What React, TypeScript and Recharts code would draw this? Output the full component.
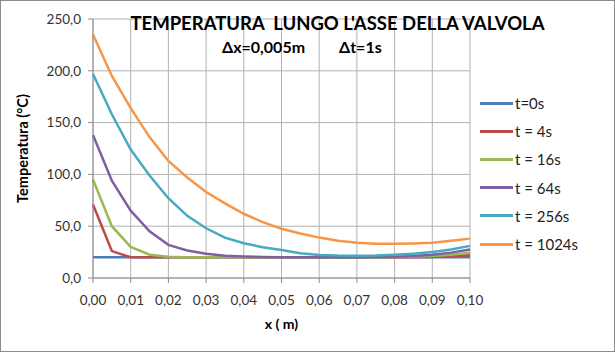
import { CartesianGrid, Line, LineChart, XAxis, YAxis } from "recharts";

const xs = [
  0, 0.005, 0.01, 0.015, 0.02, 0.025, 0.03, 0.035, 0.04, 0.045, 0.05, 0.055,
  0.06, 0.065, 0.07, 0.075, 0.08, 0.085, 0.09, 0.095, 0.1,
];
const xTicks = [0, 0.01, 0.02, 0.03, 0.04, 0.05, 0.06, 0.07, 0.08, 0.09, 0.1];
const yTicks = [0, 50, 100, 150, 200, 250];

const t0 = [20, 20, 20, 20, 20, 20, 20, 20, 20, 20, 20, 20, 20, 20, 20, 20, 20, 20, 20, 20, 20];
const t4 = [71, 26, 20, 20, 20, 20, 20, 20, 20, 20, 20, 20, 20, 20, 20, 20, 20, 20, 20.3, 21, 22];
const t16 = [95, 50, 30, 22.5, 20.5, 20, 20, 20, 20, 20, 20, 20, 20, 20, 20, 20, 20.2, 20.5, 21.2, 22.5, 24.5];
const t64 = [138, 94, 65, 45, 32, 26.5, 23.5, 21.5, 20.7, 20.3, 20.1, 20, 20, 20, 20, 20.2, 20.5, 21.3, 22.5, 24.5, 27.5];
const t256 = [197, 158, 124, 99, 77, 60, 48, 39, 33.5, 29.7, 27, 24, 22.3, 21.6, 21.4, 21.6, 22.4, 23.5, 25, 27.5, 31];
const t1024 = [235, 195, 164, 136, 113, 97, 83, 72, 62, 54, 47.5, 43, 39, 36, 34, 33, 33, 33.3, 34, 36, 38];

const series = [
  { key: "t0", name: "t=0s", color: "#4a7ebb", values: t0 },
  { key: "t4", name: "t = 4s", color: "#be4b48", values: t4 },
  { key: "t16", name: "t = 16s", color: "#98b954", values: t16 },
  { key: "t64", name: "t = 64s", color: "#7d60a0", values: t64 },
  { key: "t256", name: "t = 256s", color: "#46aac5", values: t256 },
  { key: "t1024", name: "t = 1024s", color: "#f79646", values: t1024 },
];

const data = xs.map((x, i) => {
  const row: Record<string, number> = { x };
  series.forEach((s) => (row[s.key] = s.values[i]));
  return row;
});

const font = "Lato, 'Open Sans', sans-serif";
const fmt = (v: number, d: number) => v.toFixed(d).replace(".", ",");

function LegendBox() {
  return (
    <div
      style={{
        position: "absolute",
        left: 479,
        top: 88,
        fontFamily: font,
        fontSize: 15,
        color: "#222",
      }}
    >
      {series.map((s) => (
        <div key={s.key} style={{ display: "flex", alignItems: "center", height: 28.2 }}>
          <div style={{ width: 33, height: 3, background: s.color, marginRight: 2 }} />
          <span>{s.name}</span>
        </div>
      ))}
    </div>
  );
}

const bold = { position: "absolute" as const, fontWeight: 700, color: "#000", whiteSpace: "pre" as const };

export default function App() {
  return (
    <div
      style={{
        position: "absolute",
        left: 0,
        top: 0,
        width: 615,
        height: 352,
        background: "#fff",
        border: "1px solid #8c8c8c",
        boxSizing: "border-box",
        fontFamily: font,
      }}
    >
      <LineChart
        width={613}
        height={350}
        data={data}
        margin={{ top: 18, right: 144, bottom: 43, left: 0 }}
        style={{ position: "absolute", left: 0, top: 0 }}
      >
        <CartesianGrid stroke="#b3b3b3" strokeWidth={1} />
        <XAxis
          dataKey="x"
          type="number"
          domain={[0, 0.1]}
          ticks={xTicks}
          height={30}
          tickFormatter={(v) => fmt(v, 2)}
          stroke="#8c8c8c"
          tickSize={5}
          tickMargin={12}
          tick={{ fill: "#333", fontSize: 13.5, fontFamily: font }}
          label={{
            value: "x ( m)",
            position: "insideBottom",
            offset: -21,
            fill: "#000",
            fontWeight: 700,
            fontSize: 14,
            fontFamily: font,
          }}
        />
        <YAxis
          width={92}
          domain={[0, 250]}
          ticks={yTicks}
          tickFormatter={(v) => fmt(v, 1)}
          stroke="#8c8c8c"
          tickSize={5}
          tickMargin={7}
          tick={{ fill: "#333", fontSize: 13.5, fontFamily: font }}
          label={{
            value: "Temperatura (°C)",
            angle: -90,
            position: "insideLeft",
            offset: 22,
            fill: "#000",
            fontWeight: 700,
            fontSize: 14.5,
            fontFamily: font,
            style: { textAnchor: "middle" },
          }}
        />
        {series.map((s) => (
          <Line
            key={s.key}
            dataKey={s.key}
            name={s.name}
            stroke={s.color}
            strokeWidth={2.5}
            dot={false}
            isAnimationActive={false}
          />
        ))}
      </LineChart>
      <div
        style={{
          ...bold,
          left: 0,
          width: 615,
          top: 11,
          textAlign: "center",
          paddingLeft: 58,
          boxSizing: "border-box",
          fontSize: 18.5,
        }}
      >
        {"TEMPERATURA  LUNGO L'ASSE DELLA VALVOLA"}
      </div>
      <div style={{ ...bold, left: 221, top: 36, fontSize: 16 }}>Δx=0,005m</div>
      <div style={{ ...bold, left: 338, top: 36, fontSize: 16 }}>Δt=1s</div>
      <LegendBox />
    </div>
  );
}
